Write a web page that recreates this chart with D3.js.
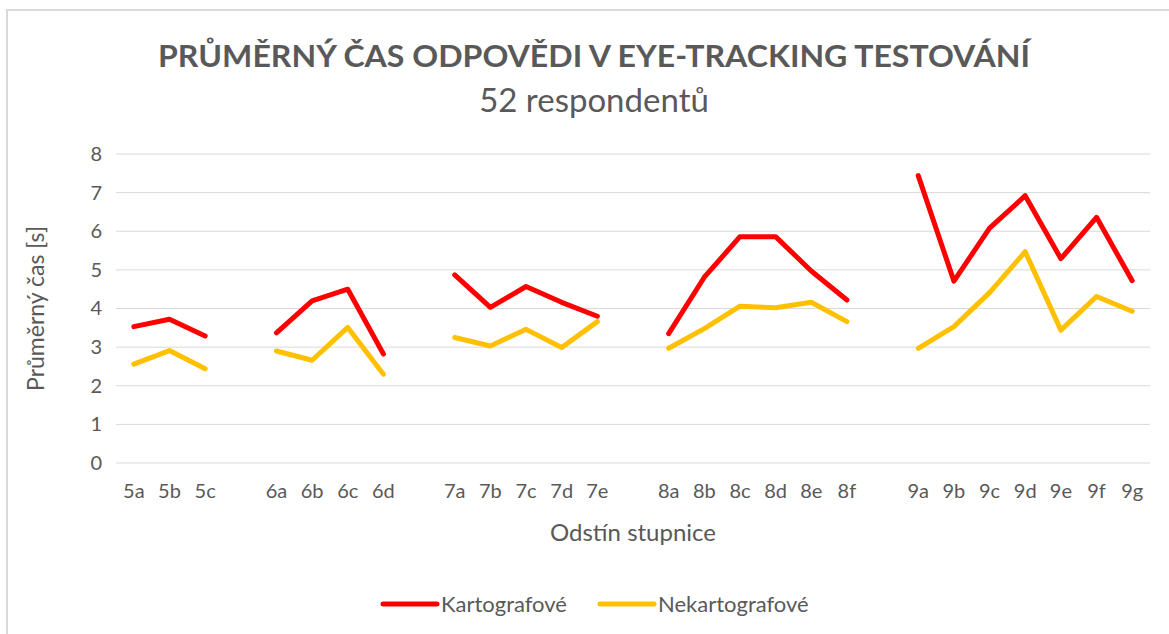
<!DOCTYPE html>
<html>
<head>
<meta charset="utf-8">
<script src="https://cdn.jsdelivr.net/npm/d3@7"></script>
<style>
  body { margin: 0; background: #fff; }
  svg text { font-family: Lato, "Open Sans", sans-serif; fill: #595959; }
</style>
</head>
<body>
<div id="chart"></div>
<script>
// categories, grouped by scale (a gap is left between groups)
const groups = [
  ['5a', '5b', '5c'],
  ['6a', '6b', '6c', '6d'],
  ['7a', '7b', '7c', '7d', '7e'],
  ['8a', '8b', '8c', '8d', '8e', '8f'],
  ['9a', '9b', '9c', '9d', '9e', '9f', '9g'],
];
const kartografove = [
  [3.53, 3.72, 3.29],
  [3.37, 4.20, 4.50, 2.82],
  [4.87, 4.03, 4.57, 4.16, 3.80],
  [3.35, 4.81, 5.86, 5.86, 4.97, 4.22],
  [7.44, 4.71, 6.08, 6.92, 5.29, 6.36, 4.72],
];
const nekartografove = [
  [2.56, 2.91, 2.44],
  [2.90, 2.66, 3.51, 2.30],
  [3.25, 3.03, 3.46, 2.99, 3.66],
  [2.97, 3.48, 4.06, 4.02, 4.16, 3.66],
  [2.97, 3.53, 4.41, 5.47, 3.44, 4.31, 3.93],
];
const yTicks = [0, 1, 2, 3, 4, 5, 6, 7, 8];
const seriesNames = ['Kartografové', 'Nekartografové'];
const seriesColors = ['#FF0000', '#FFC000'];

const width = 1169;
const height = 634;
const margin = { top: 154, right: 19, bottom: 171, left: 116 };
const plotW = width - margin.left - margin.right;
const plotH = height - margin.top - margin.bottom;

const svg = d3.select('#chart')
  .append('svg')
  .attr('width', width)
  .attr('height', height);

// chart frame (only top and left edges are visible)
svg.append('rect')
  .attr('x', 7).attr('y', 10)
  .attr('width', width + 20).attr('height', height + 20)
  .attr('fill', 'none')
  .attr('stroke', '#d9d9d9')
  .attr('stroke-width', 2);

// title
svg.append('text')
  .attr('x', 594).attr('y', 67)
  .attr('text-anchor', 'middle')
  .attr('font-size', 31)
  .attr('font-weight', 'bold')
  .attr('textLength', 872)
  .attr('lengthAdjust', 'spacingAndGlyphs')
  .text('PRŮMĚRNÝ ČAS ODPOVĚDI V EYE-TRACKING TESTOVÁNÍ');

svg.append('text')
  .attr('x', 594).attr('y', 112)
  .attr('text-anchor', 'middle')
  .attr('font-size', 33)
  .text('52 respondentů');

// build slot domain with spacer slots between groups
const slots = [];
const rows = [];
groups.forEach((grp, gi) => {
  if (gi > 0) {
    slots.push(`gap${gi}`);
    rows.push({ key: `gap${gi}`, k: null, n: null });
  }
  grp.forEach((c, ci) => {
    slots.push(c);
    rows.push({ key: c, k: kartografove[gi][ci], n: nekartografove[gi][ci] });
  });
});

const g = svg.append('g')
  .attr('transform', `translate(${margin.left},${margin.top})`);

const x = d3.scaleBand()
  .domain(slots)
  .range([0, plotW]);

const y = d3.scaleLinear()
  .domain([0, 8])
  .range([plotH, 0]);

// gridlines
g.append('g')
  .selectAll('line')
  .data(yTicks)
  .join('line')
  .attr('x1', 0).attr('x2', plotW)
  .attr('y1', (d) => y(d)).attr('y2', (d) => y(d))
  .attr('stroke', '#d9d9d9')
  .attr('stroke-width', 1);

// y axis labels
const yAxis = g.append('g')
  .call(d3.axisLeft(y).tickValues(yTicks).tickSize(0).tickPadding(14));
yAxis.select('.domain').remove();
yAxis.selectAll('text')
  .attr('font-size', 20)
  .attr('fill', '#595959')
  .style('font-family', 'Lato, sans-serif');

// x axis labels
const xAxis = g.append('g')
  .attr('transform', `translate(0,${plotH})`)
  .call(d3.axisBottom(x).tickSize(0).tickPadding(21)
    .tickFormat((d) => (d.startsWith('gap') ? '' : d)));
xAxis.select('.domain').remove();
xAxis.selectAll('text')
  .attr('font-size', 20)
  .attr('fill', '#595959')
  .style('font-family', 'Lato, sans-serif');

// axis titles
svg.append('text')
  .attr('x', margin.left + plotW / 2).attr('y', 541)
  .attr('text-anchor', 'middle')
  .attr('font-size', 24)
  .text('Odstín stupnice');

svg.append('text')
  .attr('transform', `translate(36,${margin.top + plotH / 2}) rotate(-90)`)
  .attr('text-anchor', 'middle')
  .attr('dy', '0.35em')
  .attr('font-size', 23)
  .text('Průměrný čas [s]');

// lines
const series = ['k', 'n'];
series.forEach((s, i) => {
  const line = d3.line()
    .defined((d) => d[s] != null)
    .x((d) => x(d.key) + x.bandwidth() / 2)
    .y((d) => y(d[s]));
  g.append('path')
    .datum(rows)
    .attr('d', line)
    .attr('fill', 'none')
    .attr('stroke', seriesColors[i])
    .attr('stroke-width', 5)
    .attr('stroke-linecap', 'round')
    .attr('stroke-linejoin', 'round');
});

// legend
const legendX = [383, 600];
const legend = svg.append('g');
seriesNames.forEach((name, i) => {
  legend.append('line')
    .attr('x1', legendX[i]).attr('x2', legendX[i] + 54)
    .attr('y1', 604).attr('y2', 604)
    .attr('stroke', seriesColors[i])
    .attr('stroke-width', 5)
    .attr('stroke-linecap', 'round');
  legend.append('text')
    .attr('x', legendX[i] + 58).attr('y', 604)
    .attr('dy', '0.35em')
    .attr('font-size', 22)
    .text(name);
});
</script>
</body>
</html>
